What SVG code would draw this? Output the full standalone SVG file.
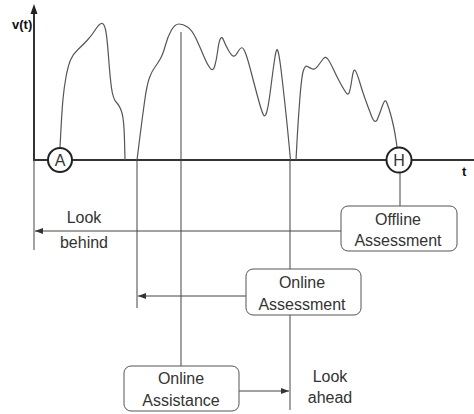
<svg xmlns="http://www.w3.org/2000/svg" width="474" height="414" viewBox="0 0 474 414">
<style>
.axis{stroke:#333;stroke-width:2;fill:none}
.thin{stroke:#444;stroke-width:1;fill:none}
.curve{stroke:#555;stroke-width:1.2;fill:none;stroke-linejoin:round}
.box{fill:#fff;stroke:#555;stroke-width:1}
.circ{fill:#fff;stroke:#222;stroke-width:2}
.lbl{font-family:"Liberation Sans",Arial,sans-serif;font-size:16px;fill:#333;text-anchor:middle}
.ax{font-family:"Liberation Sans",Arial,sans-serif;font-size:13px;font-weight:bold;fill:#111}
</style>
<defs>
<marker id="ah" markerWidth="8" markerHeight="6" refX="8" refY="3" orient="auto" markerUnits="userSpaceOnUse">
<path d="M0,0 L8,3 L0,6 Z" fill="#333"/>
</marker>
</defs>
<g id="axes">
<line class="axis" x1="34" y1="160" x2="34" y2="12"/>
<path d="M34,4 L30.5,14 L37.5,14 Z" fill="#222"/>
<line class="axis" x1="33" y1="160" x2="474" y2="160"/>
<text class="ax" x="12" y="29">v(t)</text>
<text class="ax" x="462" y="176">t</text>
</g>
<g id="curve">
<path class="curve" d="M60,147 L61,128.5 Q62,110 63,99 Q64,88 66,77 Q68,66 70.5,60 Q73,54 78,49.5 Q83,45 87.5,40 Q92,35 95.5,29.5 Q99,24 101.5,23.5 Q104,23 105.5,29.5 Q107,36 108.5,56.5 Q110,77 111.5,88 Q113,99 116.5,102.5 Q120,106 122,113 Q124,120 124.5,140 L125,160"/>
<path class="curve" d="M137,160 L139.5,140 Q142,120 144.5,102 Q147,84 149.5,77.5 Q152,71 155,67 Q158,63 160.5,58.5 Q163,54 165.5,45 Q168,36 171.5,30 Q175,24 179,24 Q183,24 187.5,27 Q192,30 196,38.5 Q200,47 203.5,55.5 Q207,64 210,68 Q213,72 214.75,66 Q216.5,60 217.75,50.5 Q219,41 220.5,38.5 Q222,36 223.5,40 Q225,44 228,49.5 Q231,55 233,56 Q235,57 237.5,52.5 Q240,48 241.75,47.75 Q243.5,47.5 245.75,53.75 Q248,60 251.5,73.5 Q255,87 258.25,99 Q261.5,111 263.25,114.5 Q265,118 266.75,112 Q268.5,106 270.75,88 Q273,70 274.75,58.5 Q276.5,47 277.75,50.5 Q279,54 280.5,65.5 Q282,77 284.5,100 Q287,123 288.75,141.5 L290.5,160"/>
<path class="curve" d="M296,160 L297,141.5 Q298,123 299.75,100 Q301.5,77 303.25,71 Q305,65 307.5,66.5 Q310,68 312.5,69 Q315,70 318.25,65.5 Q321.5,61 323.5,58.5 Q325.5,56 327.75,59 Q330,62 333.5,69.5 Q337,77 340,82.5 Q343,88 345.5,92 Q348,96 349.25,92.5 Q350.5,89 352,78.5 Q353.5,68 355.25,70.5 Q357,73 359.5,81.5 Q362,90 365,98.5 Q368,107 371.5,116 Q375,125 377.5,119 Q380,113 382.5,105.5 Q385,98 386.75,102.5 Q388.5,107 390.25,113 Q392,119 393.5,126 Q395,133 396,140 L397,147"/>
</g>
<g id="connectors">
<line class="thin" x1="34" y1="160" x2="34" y2="250"/>
<line class="thin" x1="137" y1="160" x2="137" y2="308"/>
<line class="thin" x1="181" y1="32" x2="181" y2="366"/>
<line class="thin" x1="290" y1="160" x2="290" y2="410"/>
<line class="thin" x1="400" y1="172" x2="400" y2="206"/>
<line class="thin" x1="341" y1="231" x2="35" y2="231" marker-end="url(#ah)"/>
<line class="thin" x1="246" y1="296" x2="138" y2="296" marker-end="url(#ah)"/>
<line class="thin" x1="239" y1="391" x2="289" y2="391" marker-end="url(#ah)"/>
</g>
<g id="nodeA">
<circle class="circ" cx="60" cy="160" r="12"/>
<text class="lbl" x="60" y="166">A</text>
</g>
<g id="nodeH">
<circle class="circ" cx="399" cy="160" r="12.5"/>
<text class="lbl" x="399" y="166">H</text>
</g>
<g id="lookBehind">
<text class="lbl" x="84" y="223">Look</text>
<text class="lbl" x="84" y="248">behind</text>
</g>
<g id="lookAhead">
<text class="lbl" x="330" y="382">Look</text>
<text class="lbl" x="330" y="403">ahead</text>
</g>
<g id="offlineAssessment">
<rect class="box" x="341" y="206" width="116" height="45" rx="7"/>
<text class="lbl" x="398" y="225">Offline</text>
<text class="lbl" x="398" y="246">Assessment</text>
</g>
<g id="onlineAssessment">
<rect class="box" x="246" y="269" width="115" height="46" rx="7"/>
<text class="lbl" x="302" y="288">Online</text>
<text class="lbl" x="302" y="310">Assessment</text>
</g>
<g id="onlineAssistance">
<rect class="box" x="124" y="366" width="115" height="45" rx="7"/>
<text class="lbl" x="181" y="384">Online</text>
<text class="lbl" x="181" y="406">Assistance</text>
</g>
</svg>
